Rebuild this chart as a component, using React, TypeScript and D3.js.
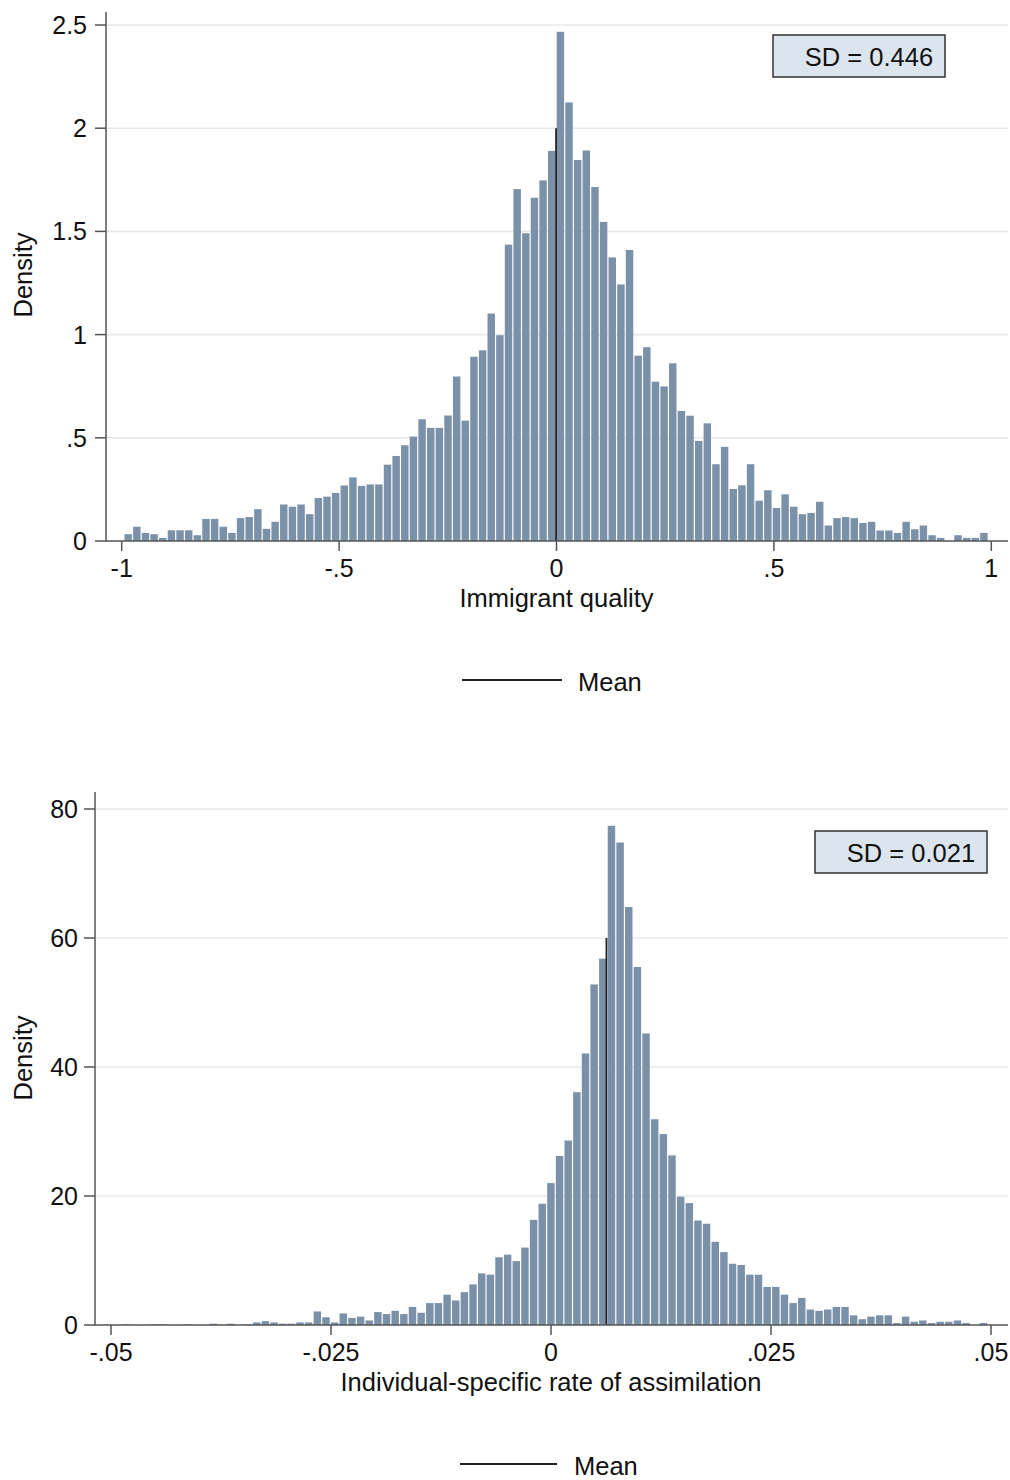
import React from "react";
import * as d3 from "d3";

// ---------- Top panel data ----------
const topXTicks = [-1, -0.5, 0, 0.5, 1];
const topXTickLabels = ["-1", "-.5", "0", ".5", "1"];
const topYTicks = [0, 0.5, 1, 1.5, 2, 2.5];
const topYTickLabels = ["0", ".5", "1", "1.5", "2", "2.5"];
const topBinStart = -0.995;
const topBinWidth = 0.01988;
const topDensity = [
  0.033, 0.069, 0.039, 0.033, 0.015, 0.052, 0.052, 0.052, 0.028, 0.107,
  0.107, 0.069, 0.039, 0.111, 0.116, 0.154, 0.059, 0.093, 0.177, 0.166,
  0.177, 0.13, 0.208, 0.215, 0.233, 0.269, 0.308, 0.267, 0.274, 0.274,
  0.37, 0.412, 0.464, 0.506, 0.59, 0.548, 0.548, 0.608, 0.797, 0.583,
  0.893, 0.924, 1.102, 0.997, 1.436, 1.705, 1.491, 1.663, 1.747, 1.89,
  2.467, 2.125, 1.846, 1.892, 1.715, 1.546, 1.374, 1.243, 1.41, 0.898,
  0.939, 0.772, 0.749, 0.861, 0.63, 0.607, 0.485, 0.57, 0.372, 0.456,
  0.252, 0.27, 0.372, 0.195, 0.246, 0.16, 0.226, 0.166, 0.13, 0.136,
  0.19, 0.075, 0.111, 0.116, 0.111, 0.087, 0.093, 0.051, 0.051, 0.039,
  0.093, 0.057, 0.075, 0.028, 0.015, 0, 0.028, 0.015, 0.015, 0.039,
];
const topMean = -0.001;
const topMeanTop = 2;
const topXTitle = "Immigrant quality";
const topSD = "SD = 0.446";

// ---------- Bottom panel data ----------
const botXTicks = [-0.05, -0.025, 0, 0.025, 0.05];
const botXTickLabels = ["-.05", "-.025", "0", ".025", ".05"];
const botYTicks = [0, 20, 40, 60, 80];
const botYTickLabels = ["0", "20", "40", "60", "80"];
const botBinStart = -0.04867;
const botBinWidth = 0.000983;
const botDensity = [
  0.1, 0, 0, 0.1, 0.1, 0, 0, 0.1, 0, 0,
  0.2, 0, 0.2, 0, 0.1, 0.4, 0.6, 0.4, 0.2, 0.2,
  0.4, 0.4, 2.1, 1.2, 0.4, 1.8, 1.1, 1.3, 0.7, 2.0,
  1.7, 2.2, 1.7, 2.8, 1.9, 3.4, 3.4, 4.7, 3.8, 5.1,
  6.3, 8.0, 7.8, 10.5, 10.9, 9.9, 12.0, 16.3, 18.8, 22.0,
  26.2, 28.6, 36.1, 42.1, 52.8, 56.8, 77.4, 74.8, 64.8, 55.5,
  45.2, 31.9, 29.6, 26.3, 19.9, 18.9, 16.2, 15.7, 12.9, 11.3,
  9.5, 9.3, 7.8, 7.8, 5.9, 5.9, 4.7, 3.4, 4.2, 2.4,
  2.2, 2.4, 2.8, 2.8, 1.5, 0.9, 1.3, 1.5, 1.5, 0.3,
  1.3, 0.5, 0.7, 0.3, 0.5, 0.5, 0.7, 0.3, 0, 0.3,
];
const botMean = 0.0063;
const botMeanTop = 60;
const botXTitle = "Individual-specific rate of assimilation";
const botSD = "SD = 0.021";

const legendLabel = "Mean";
const yTitle = "Density";

const FONT = "'Liberation Sans', Arial, Helvetica, sans-serif";
const BAR_FILL = "#7b91a9";
const GRID = "#e8e8e8";
const AXIS = "#555555";
const TICK_FS = 25;
const TITLE_FS = 25.5;

type PanelProps = {
  density: number[];
  binStart: number;
  binWidth: number;
  xTicks: number[];
  xTickLabels: string[];
  yTicks: number[];
  yTickLabels: string[];
  xDomain: [number, number];
  xRange: [number, number];
  yDomain: [number, number];
  yRange: [number, number];
  axisX: number;
  axisTop: number;
  rightEdge: number;
  mean: number;
  meanTop: number;
  xTitle: string;
  xTitleY: number;
  sd: string;
  sdBox: { x: number; y: number; w: number; h: number };
  yTitleY: number;
  legendY: number;
  legendX1: number;
  legendX2: number;
  legendTextX: number;
  labelGap: number;
};

function Panel(p: PanelProps) {
  const x = d3.scaleLinear().domain(p.xDomain).range(p.xRange);
  const y = d3.scaleLinear().domain(p.yDomain).range(p.yRange);
  const y0 = y(0);
  const bins = p.density.map((d, i) => {
    const x0 = p.binStart + i * p.binWidth;
    return { x0, x1: x0 + p.binWidth, d };
  });
  return (
    <g fontFamily={FONT}>
      {p.yTicks
        .filter((t) => t !== 0)
        .map((t) => (
          <line
            key={"g" + t}
            x1={p.axisX + 1}
            x2={p.rightEdge}
            y1={y(t)}
            y2={y(t)}
            stroke={GRID}
            strokeWidth={1.6}
          />
        ))}
      {bins.map((b, i) =>
        b.d > 0 ? (
          <rect
            key={"b" + i}
            x={x(b.x0) + 0.6}
            width={Math.max(0, x(b.x1) - x(b.x0) - 1.2)}
            y={y(b.d)}
            height={y0 - y(b.d)}
            fill={BAR_FILL}
          />
        ) : null
      )}
      <line
        x1={x(p.mean)}
        x2={x(p.mean)}
        y1={y0}
        y2={y(p.meanTop)}
        stroke="#222"
        strokeWidth={1.8}
      />
      <line x1={p.axisX} x2={p.axisX} y1={p.axisTop} y2={y0 + 0.5} stroke={AXIS} strokeWidth={1.5} />
      {p.yTicks.map((t, i) => (
        <g key={"yt" + t}>
          <line x1={p.axisX - 11} x2={p.axisX} y1={y(t)} y2={y(t)} stroke={AXIS} strokeWidth={1.5} />
          <text
            x={p.axisX - p.labelGap}
            y={y(t)}
            textAnchor="end"
            dominantBaseline="central"
            fontSize={TICK_FS}
            fill="#111"
          >
            {p.yTickLabels[i]}
          </text>
        </g>
      ))}
      <line x1={p.axisX} x2={p.rightEdge} y1={y0} y2={y0} stroke={AXIS} strokeWidth={1.5} />
      {p.xTicks.map((t, i) => (
        <g key={"xt" + t}>
          <line x1={x(t)} x2={x(t)} y1={y0} y2={y0 + 10} stroke={AXIS} strokeWidth={1.5} />
          <text x={x(t)} y={y0 + 27} textAnchor="middle" dominantBaseline="central" fontSize={TICK_FS} fill="#111">
            {p.xTickLabels[i]}
          </text>
        </g>
      ))}
      <text
        x={(p.xRange[0] + p.xRange[1]) / 2}
        y={p.xTitleY}
        textAnchor="middle"
        dominantBaseline="central"
        fontSize={TITLE_FS}
        fill="#111"
      >
        {p.xTitle}
      </text>
      <text
        transform={`translate(23,${p.yTitleY}) rotate(-90)`}
        textAnchor="middle"
        dominantBaseline="central"
        fontSize={TITLE_FS}
        fill="#111"
      >
        {yTitle}
      </text>
      <rect
        x={p.sdBox.x}
        y={p.sdBox.y}
        width={p.sdBox.w}
        height={p.sdBox.h}
        fill="#dce5ed"
        stroke="#333"
        strokeWidth={1.5}
      />
      <text
        x={p.sdBox.x + p.sdBox.w / 2 + 10}
        y={p.sdBox.y + p.sdBox.h / 2 + 1}
        textAnchor="middle"
        dominantBaseline="central"
        fontSize={TITLE_FS}
        fill="#111"
      >
        {p.sd}
      </text>
      <line x1={p.legendX1} x2={p.legendX2} y1={p.legendY} y2={p.legendY} stroke="#222" strokeWidth={1.8} />
      <text x={p.legendTextX} y={p.legendY + 2} dominantBaseline="central" fontSize={TITLE_FS} fill="#111">
        {legendLabel}
      </text>
    </g>
  );
}

export default function App() {
  return (
    <svg
      width={1010}
      height={1480}
      style={{ position: "absolute", left: 0, top: 0, background: "#fff" }}
    >
      <rect x={0} y={0} width={1010} height={1480} fill="#fff" />
      <Panel
        density={topDensity}
        binStart={topBinStart}
        binWidth={topBinWidth}
        xTicks={topXTicks}
        xTickLabels={topXTickLabels}
        yTicks={topYTicks}
        yTickLabels={topYTickLabels}
        xDomain={[-1, 1]}
        xRange={[121.7, 991.3]}
        yDomain={[0, 2.5]}
        yRange={[541, 25]}
        axisX={106}
        axisTop={12}
        rightEdge={1008}
        mean={topMean}
        meanTop={topMeanTop}
        xTitle={topXTitle}
        xTitleY={598}
        sd={topSD}
        sdBox={{ x: 773, y: 35, w: 172, h: 42 }}
        yTitleY={275}
        legendY={680}
        legendX1={462}
        legendX2={562}
        legendTextX={578}
        labelGap={19}
      />
      <Panel
        density={botDensity}
        binStart={botBinStart}
        binWidth={botBinWidth}
        xTicks={botXTicks}
        xTickLabels={botXTickLabels}
        yTicks={botYTicks}
        yTickLabels={botYTickLabels}
        xDomain={[-0.05, 0.05]}
        xRange={[111, 991]}
        yDomain={[0, 80]}
        yRange={[1325, 809]}
        axisX={95}
        axisTop={792}
        rightEdge={1008}
        mean={botMean}
        meanTop={botMeanTop}
        xTitle={botXTitle}
        xTitleY={1382}
        sd={botSD}
        sdBox={{ x: 815, y: 831, w: 172, h: 42 }}
        yTitleY={1058}
        legendY={1464}
        legendX1={460}
        legendX2={557}
        legendTextX={574}
        labelGap={17}
      />
    </svg>
  );
}
